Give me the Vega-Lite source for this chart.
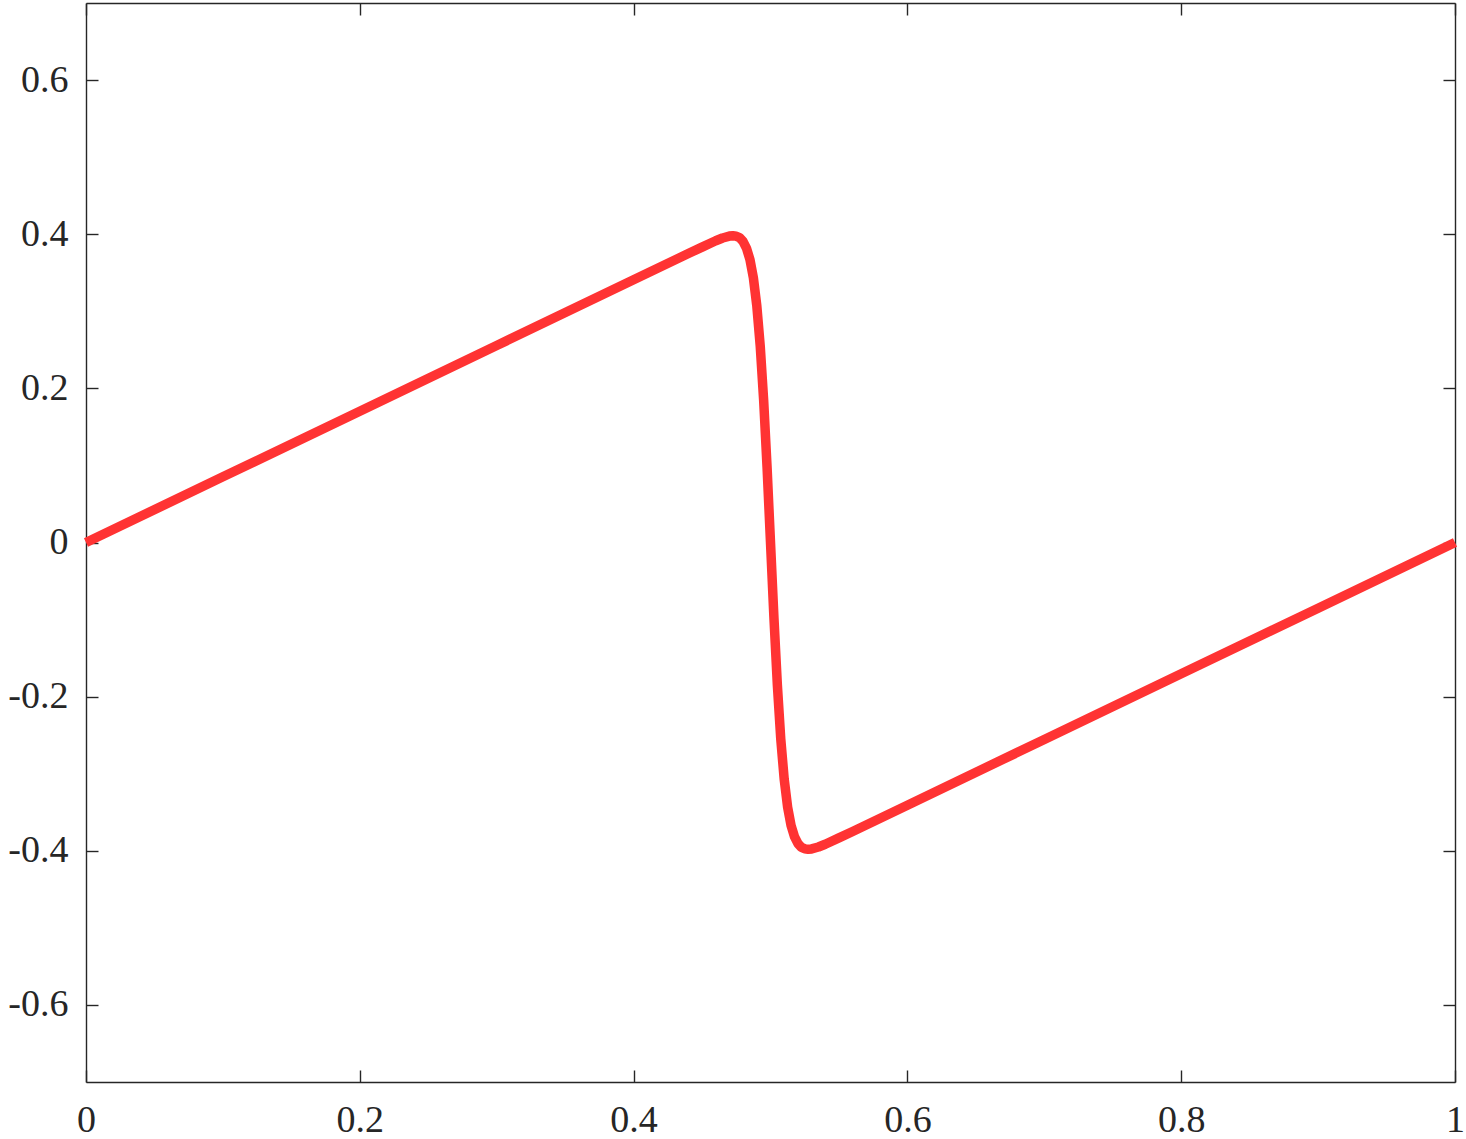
{
  "$schema": "https://vega.github.io/schema/vega-lite/v6.json",
  "width": 1369,
  "height": 1079,
  "autosize": {"type": "none"},
  "padding": {"left": 86, "top": 3, "right": 11, "bottom": 57},
  "background": "white",
  "config": {
    "view": {"stroke": null},
    "axis": {
      "grid": false,
      "title": null,
      "domainColor": "#262626",
      "domainWidth": 1.4,
      "tickColor": "#262626",
      "tickWidth": 1.4,
      "tickSize": -12,
      "labelFont": "Liberation Serif",
      "labelFontSize": 38,
      "labelColor": "#262626",
      "labelFlush": false,
      "labelOverlap": false,
      "zindex": 1
    }
  },
  "data": {
    "values": [
      {"x": 0.0, "u": 0.0},
      {"x": 0.1, "u": 0.0852},
      {"x": 0.2, "u": 0.1704},
      {"x": 0.3, "u": 0.2556},
      {"x": 0.4, "u": 0.3408},
      {"x": 0.44, "u": 0.3749},
      {"x": 0.45, "u": 0.3833},
      {"x": 0.46, "u": 0.3915},
      {"x": 0.465, "u": 0.3951},
      {"x": 0.47, "u": 0.3976},
      {"x": 0.4725, "u": 0.3981},
      {"x": 0.475, "u": 0.3975},
      {"x": 0.4775, "u": 0.3953},
      {"x": 0.48, "u": 0.3905},
      {"x": 0.4825, "u": 0.3817},
      {"x": 0.485, "u": 0.367},
      {"x": 0.4875, "u": 0.3433},
      {"x": 0.49, "u": 0.3071},
      {"x": 0.4925, "u": 0.2549},
      {"x": 0.495, "u": 0.1845},
      {"x": 0.4975, "u": 0.0974},
      {"x": 0.5, "u": 0.0},
      {"x": 0.5025, "u": -0.0974},
      {"x": 0.505, "u": -0.1845},
      {"x": 0.5075, "u": -0.2549},
      {"x": 0.51, "u": -0.3071},
      {"x": 0.5125, "u": -0.3433},
      {"x": 0.515, "u": -0.367},
      {"x": 0.5175, "u": -0.3817},
      {"x": 0.52, "u": -0.3905},
      {"x": 0.5225, "u": -0.3953},
      {"x": 0.525, "u": -0.3975},
      {"x": 0.5275, "u": -0.3981},
      {"x": 0.53, "u": -0.3976},
      {"x": 0.535, "u": -0.3951},
      {"x": 0.54, "u": -0.3915},
      {"x": 0.55, "u": -0.3833},
      {"x": 0.56, "u": -0.3749},
      {"x": 0.6, "u": -0.3408},
      {"x": 0.7, "u": -0.2556},
      {"x": 0.8, "u": -0.1704},
      {"x": 0.9, "u": -0.0852},
      {"x": 1.0, "u": 0.0}
    ]
  },
  "layer": [
    {
      "mark": {"type": "line", "color": "#ff3333", "strokeWidth": 9.5, "strokeCap": "butt", "strokeJoin": "round"},
      "encoding": {
        "x": {
          "field": "x", "type": "quantitative",
          "scale": {"domain": [0, 1], "nice": false, "zero": false},
          "axis": {"orient": "bottom", "values": [0, 0.2, 0.4, 0.6, 0.8, 1], "labelPadding": 31,
                   "labelExpr": "format(datum.value, '.1~f')"}
        },
        "y": {
          "field": "u", "type": "quantitative",
          "scale": {"domain": [-0.7, 0.7], "nice": false, "zero": false},
          "axis": {"orient": "left", "values": [-0.6, -0.4, -0.2, 0, 0.2, 0.4, 0.6], "labelPadding": 30,
                   "labelExpr": "datum.value < -0.0001 ? '-' + format(-datum.value, '.1~f') : format(abs(datum.value), '.1~f')"}
        }
      }
    },
    {
      "mark": {"type": "line", "opacity": 0},
      "encoding": {
        "x": {
          "field": "x", "type": "quantitative",
          "scale": {"domain": [0, 1], "nice": false, "zero": false},
          "axis": {"orient": "top", "values": [0, 0.2, 0.4, 0.6, 0.8, 1], "labels": false}
        },
        "y": {
          "field": "u", "type": "quantitative",
          "scale": {"domain": [-0.7, 0.7], "nice": false, "zero": false},
          "axis": {"orient": "right", "values": [-0.6, -0.4, -0.2, 0, 0.2, 0.4, 0.6], "labels": false}
        }
      }
    }
  ],
  "resolve": {"axis": {"x": "independent", "y": "independent"}}
}
